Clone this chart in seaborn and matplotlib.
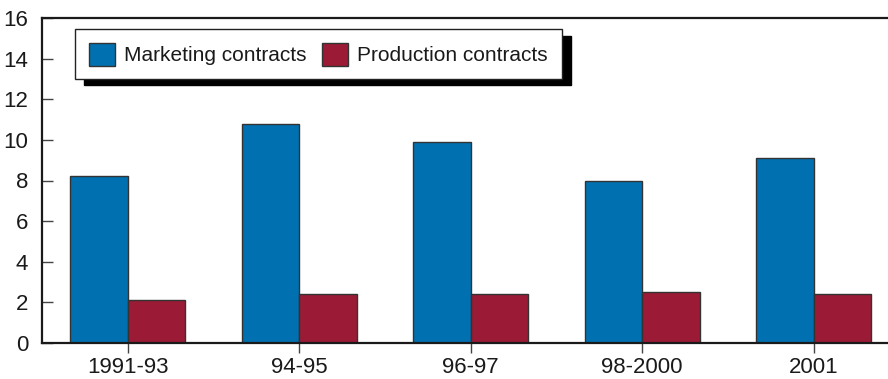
import seaborn as sns
import matplotlib.pyplot as plt
import pandas as pd

# Values
periods = ['1991-93', '94-95', '96-97', '98-2000', '2001']
marketing = [8.2, 10.8, 9.9, 8.0, 9.1]
production = [2.1, 2.4, 2.4, 2.5, 2.4]
series_names = ['Marketing contracts', 'Production contracts']
colors = ['#0070B0', '#9B1A35']

df = pd.DataFrame({
    'period': periods * 2,
    'value': marketing + production,
    'series': [series_names[0]] * len(periods) + [series_names[1]] * len(periods),
})

sns.set_style('white')
plt.rcParams['font.family'] = ['Liberation Sans', 'DejaVu Sans']

fig = plt.figure(figsize=(8.88, 3.79), dpi=100)
ax = fig.add_axes([42 / 888, 36 / 379, 846 / 888, 325 / 379])

sns.barplot(data=df, x='period', y='value', hue='series', order=periods,
            hue_order=series_names, palette=colors, width=0.67,
            edgecolor='#333333', linewidth=1.0, saturation=1, ax=ax)

ax.set_xlim(-0.5, -0.5 + 846 / 171.5)
ax.set_ylim(0, 16)
ax.set_yticks(range(0, 17, 2))
ax.set_xlabel('')
ax.set_ylabel('')

for side in ['left', 'bottom', 'top']:
    ax.spines[side].set_visible(True)
    ax.spines[side].set_color('#1a1a1a')
    ax.spines[side].set_linewidth(1.6)
ax.spines['right'].set_visible(False)

ax.tick_params(axis='y', direction='in', length=8, width=1, color='#444444',
               labelsize=16, pad=10, left=True, labelcolor='#1a1a1a')
ax.tick_params(axis='x', direction='out', length=7, width=1, color='#444444',
               labelsize=16, pad=3, bottom=True, labelcolor='#1a1a1a')

ax.legend(loc='upper left', bbox_to_anchor=(0.039, 0.965), borderaxespad=0,
          ncol=2, fontsize=15, frameon=True, fancybox=False, framealpha=1,
          edgecolor='#222222', handlelength=1.25, handleheight=1.3,
          handletextpad=0.45, columnspacing=0.75, borderpad=0.65,
          labelcolor='#1a1a1a',
          shadow={'ox': 6.5, 'oy': -4.5, 'color': 'black', 'alpha': 1})
ax.get_legend().get_frame().set_linewidth(1.0)

plt.savefig('out.png', dpi=100)
